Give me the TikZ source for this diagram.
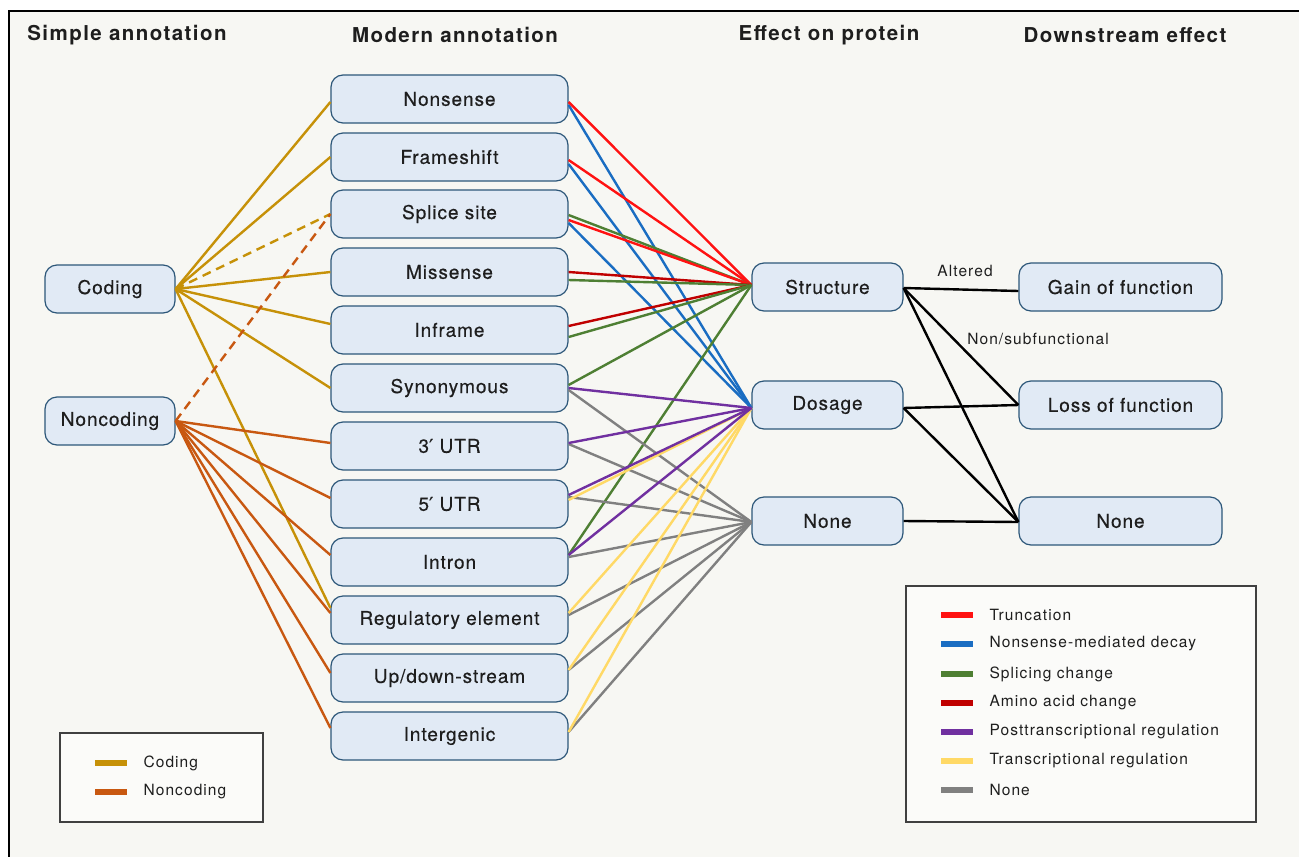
\documentclass[tikz,border=0pt]{standalone}
\usepackage{fontspec}
\setmainfont{TeX Gyre Heros}
\newfontfamily\hdfont[LetterSpace=7]{TeX Gyre Heros}
\newfontfamily\boxfont[LetterSpace=5,FakeBold=0.4]{TeX Gyre Heros}
\newfontfamily\primefont[FakeBold=0.4]{DejaVu Sans}
\newfontfamily\smfont[LetterSpace=7]{TeX Gyre Heros}
\newcommand{\prm}{{\primefont ′}}
\definecolor{bg}{HTML}{F7F7F3}
\definecolor{boxfill}{HTML}{E1EAF5}
\definecolor{boxline}{HTML}{2D5779}
\definecolor{txt}{HTML}{1E1E1E}
\definecolor{cCod}{HTML}{C69108}
\definecolor{cNon}{HTML}{C85811}
\definecolor{cTrunc}{HTML}{FF1212}
\definecolor{cNMD}{HTML}{1A6DC2}
\definecolor{cSplice}{HTML}{4E7F33}
\definecolor{cAA}{HTML}{C00000}
\definecolor{cPost}{HTML}{7030A0}
\definecolor{cTrans}{HTML}{FFD966}
\definecolor{cNone}{HTML}{808080}
\tikzset{
  annbox/.style={draw=boxline, fill=boxfill, line width=1.2pt, rounded corners=12pt,
    minimum height=48pt, inner sep=0pt, text=txt, font=\boxfont\fontsize{19}{22}\selectfont},
  modbox/.style={annbox, minimum width=237pt},
  simbox/.style={annbox, minimum width=130pt},
  effbox/.style={annbox, minimum width=151pt},
  dwnbox/.style={annbox, minimum width=203pt},
  header/.style={text=txt, font=\hdfont\bfseries\fontsize{20.5}{24}\selectfont},
  smalltxt/.style={text=txt, font=\smfont\fontsize{15.5}{18}\selectfont},
  conn/.style={line width=2.4pt},
  blk/.style={conn, black},
  legbar/.style={line width=6pt},
  legframe/.style={draw=black!75, line width=1.4pt, fill=white!50!bg}
}
\begin{document}
\begin{tikzpicture}[x=1pt,y=-1pt]
\useasboundingbox (0,0) rectangle (1299,857);
\fill[white] (0,0) rectangle (1299,857);
\fill[bg] (9,11) rectangle (1299,857);
\draw[line width=2.5pt, black] (9,857) -- (9,11) -- (1299,11);

% headers
\node[header] (h1) at (127,35) {Simple annotation};
\node[header] (h2) at (455,35) {Modern annotation};
\node[header] (h3) at (829,35) {Effect on protein};
\node[header] (h4) at (1125,35) {Downstream effect};

% simple
\node[simbox] (cod) at (110,289) {Coding};
\node[simbox] (non) at (110,421) {Noncoding};

% modern
\node[modbox] (m1) at (449.5,99) {Nonsense};
\node[modbox] (m2) at (449.5,157) {Frameshift};
\node[modbox] (m3) at (449.5,214) {Splice site};
\node[modbox] (m4) at (449.5,272) {Missense};
\node[modbox] (m5) at (449.5,330) {Inframe};
\node[modbox] (m6) at (449.5,388) {Synonymous};
\node[modbox] (m7) at (449.5,446) {3\prm\ UTR};
\node[modbox] (m8) at (449.5,504) {5\prm\ UTR};
\node[modbox] (m9) at (449.5,562) {Intron};
\node[modbox] (m10) at (449.5,620) {Regulatory element};
\node[modbox] (m11) at (449.5,678) {Up/down-stream};
\node[modbox] (m12) at (449.5,736) {Intergenic};

% effect
\node[effbox] (es) at (827.5,287) {Structure};
\node[effbox] (ed) at (827.5,405) {Dosage};
\node[effbox] (en) at (827.5,521) {None};

% downstream
\node[dwnbox] (dg) at (1120.5,287) {Gain of function};
\node[dwnbox] (dl) at (1120.5,405) {Loss of function};
\node[dwnbox] (dn) at (1120.5,521) {None};

% simple -> modern
\begin{scope}[conn, cCod]
\draw (cod.east) -- ([yshift=-3pt]m1.west);
\draw (cod.east) -- (m2.west);
\draw[dashed, dash pattern=on 9pt off 6pt] (cod.east) -- (m3.west);
\draw (cod.east) -- (m4.west);
\draw (cod.east) -- ([yshift=6pt]m5.west);
\draw (cod.east) -- (m6.west);
\draw (cod.east) -- ([yshift=12pt]m10.west);
\end{scope}
\begin{scope}[conn, cNon]
\draw[dashed, dash pattern=on 9pt off 6pt] (non.east) -- (m3.west);
\draw (non.east) -- ([yshift=3pt]m7.west);
\draw (non.east) -- ([yshift=6pt]m8.west);
\draw (non.east) -- ([yshift=7pt]m9.west);
\draw (non.east) -- ([yshift=7pt]m10.west);
\draw (non.east) -- ([yshift=5pt]m11.west);
\draw (non.east) -- ([yshift=8pt]m12.west);
\end{scope}

% modern -> effect
\draw[conn, cNMD] ([yshift=-6pt]m1.east) -- ([yshift=-3pt]ed.west);
\draw[conn, cNMD] ([yshift=-7pt]m2.east) -- ([yshift=-3pt]ed.west);
\draw[conn, cNMD] ([yshift=-9pt]m3.east) -- ([yshift=-3pt]ed.west);
\draw[conn, cTrunc] ([yshift=-3pt]m1.east) -- ([yshift=2pt]es.west);
\draw[conn, cTrunc] ([yshift=-3pt]m2.east) -- ([yshift=2pt]es.west);
\draw[conn, cSplice] ([yshift=-1pt]m3.east) -- ([yshift=2pt]es.west);
\draw[conn, cTrunc] ([yshift=-6pt]m3.east) -- ([yshift=2pt]es.west);
\draw[conn, cAA] (m4.east) -- ([yshift=2pt]es.west);
\draw[conn, cSplice] ([yshift=-8pt]m4.east) -- ([yshift=2pt]es.west);
\draw[conn, cAA] ([yshift=4pt]m5.east) -- ([yshift=2pt]es.west);
\draw[conn, cSplice] ([yshift=-7pt]m5.east) -- ([yshift=2pt]es.west);
\draw[conn, cSplice] ([yshift=3pt]m6.east) -- ([yshift=2pt]es.west);
\draw[conn, cSplice] ([yshift=7pt]m9.east) -- ([yshift=2pt]es.west);

\draw[conn, cNone] ([yshift=-2pt]m6.east) -- ([yshift=-1pt]en.west);
\draw[conn, cNone] ([yshift=2pt]m7.east) -- ([yshift=-1pt]en.west);
\draw[conn, cNone] ([yshift=7pt]m8.east) -- ([yshift=-1pt]en.west);
\draw[conn, cNone] ([yshift=5pt]m9.east) -- ([yshift=-1pt]en.west);
\draw[conn, cNone] ([yshift=5pt]m10.east) -- ([yshift=-1pt]en.west);
\draw[conn, cNone] ([yshift=8pt]m11.east) -- ([yshift=-1pt]en.west);
\draw[conn, cNone] ([yshift=4pt]m12.east) -- ([yshift=-1pt]en.west);

\draw[conn, cTrans] ([yshift=4pt]m8.east) -- ([yshift=-3pt]ed.west);
\draw[conn, cTrans] ([yshift=7pt]m10.east) -- ([yshift=-3pt]ed.west);
\draw[conn, cTrans] ([yshift=8pt]m11.east) -- ([yshift=-3pt]ed.west);
\draw[conn, cTrans] ([yshift=4pt]m12.east) -- ([yshift=-3pt]ed.west);

\draw[conn, cPost] (m6.east) -- ([yshift=-3pt]ed.west);
\draw[conn, cPost] ([yshift=3pt]m7.east) -- ([yshift=-3pt]ed.west);
\draw[conn, cPost] ([yshift=9pt]m8.east) -- ([yshift=-3pt]ed.west);
\draw[conn, cPost] ([yshift=7pt]m9.east) -- ([yshift=-3pt]ed.west);

% effect -> downstream
\draw[blk] ([yshift=-1pt]es.east) -- ([yshift=-4pt]dg.west);
\draw[blk] ([yshift=-1pt]es.east) -- (dl.west);
\draw[blk] ([yshift=-1pt]es.east) -- ([yshift=-1pt]dn.west);
\draw[blk] ([yshift=-3pt]ed.east) -- (dl.west);
\draw[blk] ([yshift=-3pt]ed.east) -- ([yshift=-1pt]dn.west);
\draw[blk] (en.east) -- ([yshift=-1pt]dn.west);

\node[smalltxt] (lab1) at (965,271) {Altered};
\node[smalltxt] (lab2) at (1038,339) {Non/subfunctional};

% left legend
\draw[legframe] (60,733) rectangle (263,822);
\draw[legbar, cCod] (95,763) -- (127,763);
\draw[legbar, cNon] (95,792) -- (127,792);
\node[smalltxt, anchor=west] (lc) at (140,763) {Coding};
\node[smalltxt, anchor=west] (ln) at (140,792) {Noncoding};

% right legend
\draw[legframe] (906,586) rectangle (1256,822);
\foreach \c/\t/\yy [count=\i] in {cTrunc/Truncation/615, cNMD/Nonsense-mediated decay/644, cSplice/Splicing change/674, cAA/Amino acid change/703, cPost/Posttranscriptional regulation/732, cTrans/Transcriptional regulation/761, cNone/None/790}{
  \draw[legbar, \c] (941,\yy) -- (973,\yy);
  \node[smalltxt, anchor=west] (lg\i) at (986,\yy) {\t};
}
\end{tikzpicture}
\end{document}
